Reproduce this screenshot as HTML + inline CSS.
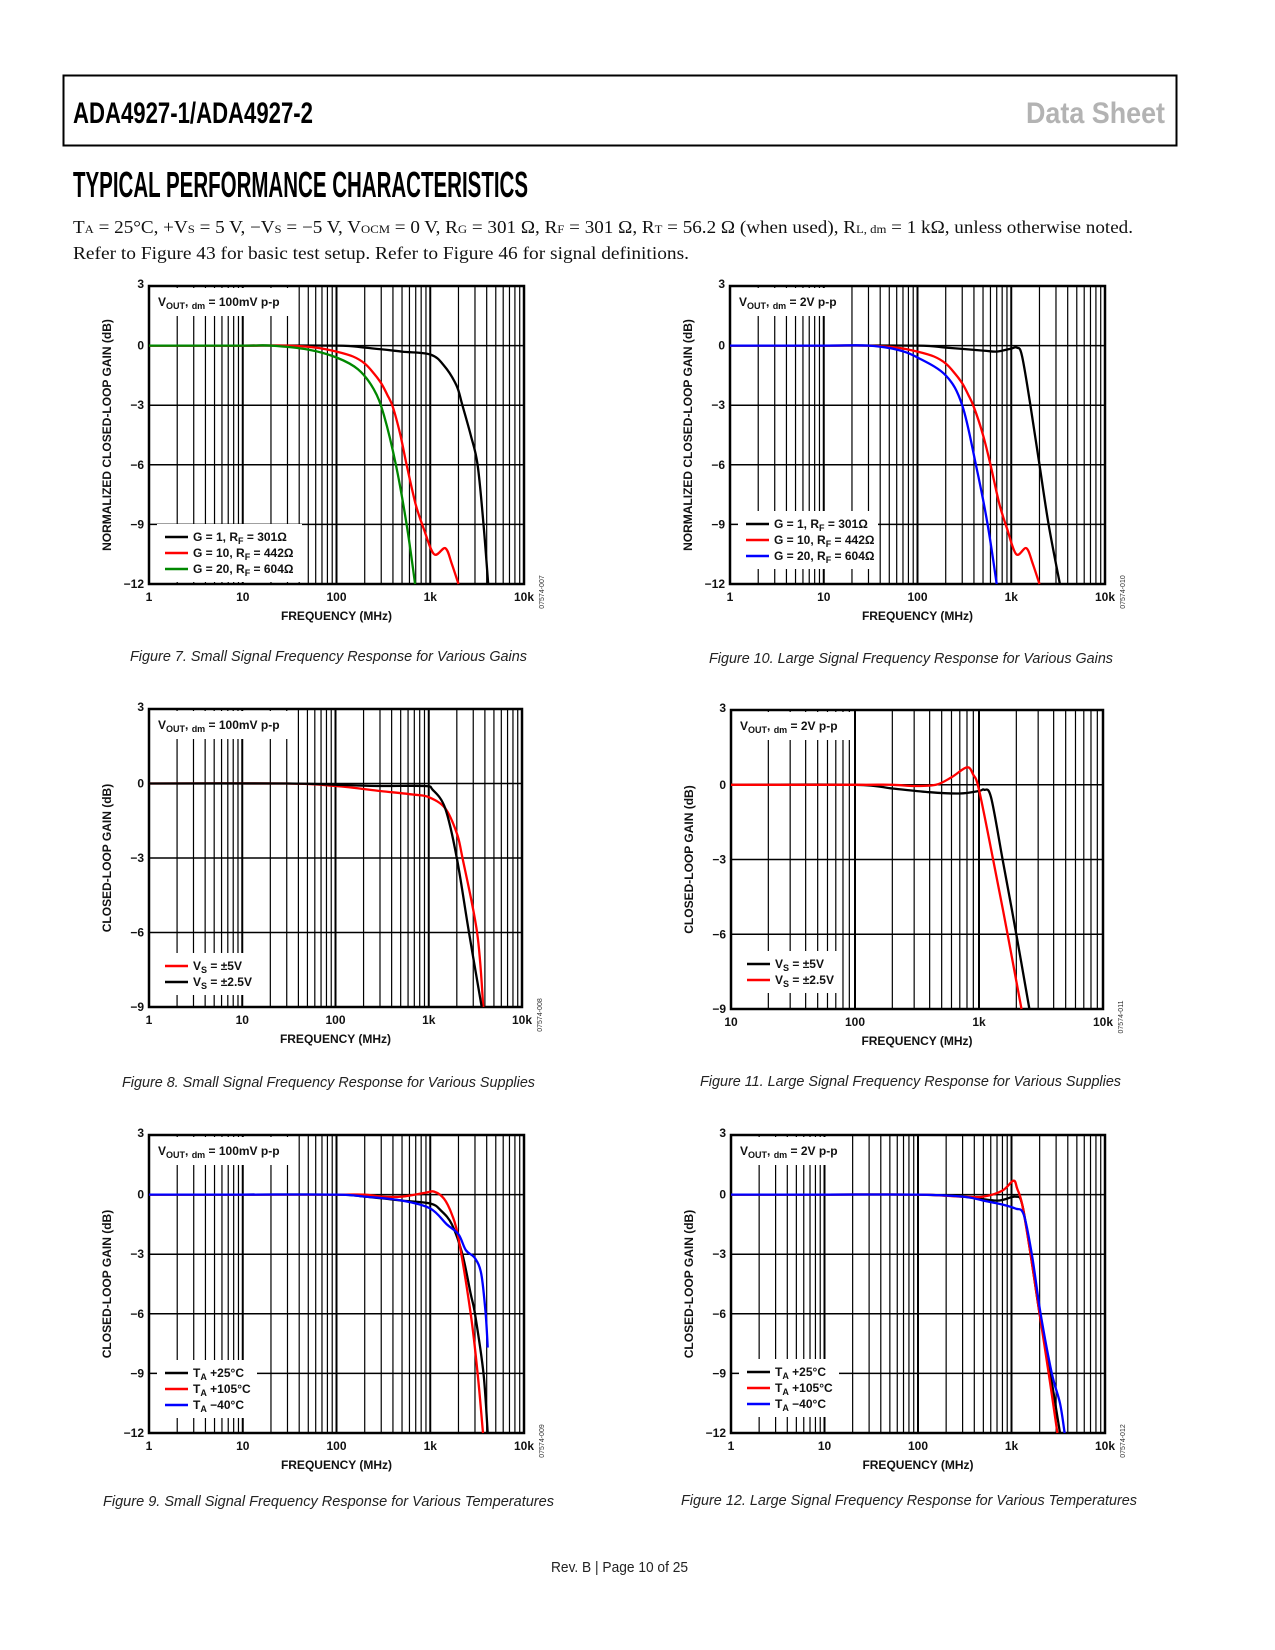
<!DOCTYPE html>
<html><head><meta charset="utf-8">
<style>
html,body{margin:0;padding:0;background:#fff;}
svg{display:block;}
.ax{font-family:"Liberation Sans",Arial,sans-serif;font-weight:bold;font-size:12px;fill:#111;}
.cap{font-family:"Liberation Sans",Arial,sans-serif;font-style:italic;font-size:15px;fill:#222;}
.foot{font-family:"Liberation Sans",Arial,sans-serif;font-style:normal;font-size:15px;fill:#222;}
.body{font-family:"Liberation Serif","Times New Roman",serif;font-size:18px;fill:#111;}
</style></head>
<body>
<svg id="page" width="1275" height="1650" viewBox="0 0 1275 1650" xmlns="http://www.w3.org/2000/svg">
<rect x="0" y="0" width="1275" height="1650" fill="#fff"/>
<rect x="63.5" y="75.5" width="1113" height="70" fill="none" stroke="#000" stroke-width="2"/>
<text x="73" y="123" font-family="Liberation Sans, sans-serif" font-weight="bold" font-size="30" textLength="240" lengthAdjust="spacingAndGlyphs">ADA4927-1/ADA4927-2</text>
<text x="1026" y="123" font-family="Liberation Sans, sans-serif" font-weight="bold" font-size="30" fill="#b3b3b3" textLength="139" lengthAdjust="spacingAndGlyphs">Data Sheet</text>
<text x="73" y="197" font-family="Liberation Sans, sans-serif" font-weight="bold" font-size="36" textLength="455" lengthAdjust="spacingAndGlyphs">TYPICAL PERFORMANCE CHARACTERISTICS</text>
<text class="body" x="73" y="233" textLength="1060" lengthAdjust="spacingAndGlyphs">T<tspan font-size="12">A</tspan> = 25°C, +V<tspan font-size="12">S</tspan> = 5 V, −V<tspan font-size="12">S</tspan> = −5 V, V<tspan font-size="12">OCM</tspan> = 0 V, R<tspan font-size="12">G</tspan> = 301 Ω, R<tspan font-size="12">F</tspan> = 301 Ω, R<tspan font-size="12">T</tspan> = 56.2 Ω (when used), R<tspan font-size="12">L, dm</tspan> = 1 kΩ, unless otherwise noted.</text>
<text class="body" x="73" y="259" textLength="616" lengthAdjust="spacingAndGlyphs">Refer to Figure 43 for basic test setup. Refer to Figure 46 for signal definitions.</text>

<text class="cap" x="130" y="661" textLength="397" lengthAdjust="spacingAndGlyphs">Figure 7. Small Signal Frequency Response for Various Gains</text>
<text class="cap" x="709" y="663" textLength="404" lengthAdjust="spacingAndGlyphs">Figure 10. Large Signal Frequency Response for Various Gains</text>
<text class="cap" x="122" y="1087" textLength="413" lengthAdjust="spacingAndGlyphs">Figure 8. Small Signal Frequency Response for Various Supplies</text>
<text class="cap" x="700" y="1086" textLength="421" lengthAdjust="spacingAndGlyphs">Figure 11. Large Signal Frequency Response for Various Supplies</text>
<text class="cap" x="103" y="1506" textLength="451" lengthAdjust="spacingAndGlyphs">Figure 9. Small Signal Frequency Response for Various Temperatures</text>
<text class="cap" x="681" y="1505" textLength="456" lengthAdjust="spacingAndGlyphs">Figure 12. Large Signal Frequency Response for Various Temperatures</text>
<text class="foot" x="551" y="1572" textLength="137" lengthAdjust="spacingAndGlyphs">Rev. B | Page 10 of 25</text>
<g id="charts"></g>
</svg>
<script>
// ---- data (frequency in MHz, gain in dB) ----
const f7Black = [1,10,100,200,500,1000,1400,1900,2200,2700,3200,3700,4150];
const g7Black = [0,0,0,-0.1,-0.3,-0.45,-1,-2,-3,-4.5,-6,-9,-12];
const f7Red = [1,10,30,60,100,150,200,250,300,350,400,480,560,700,850,1100,1450,1700,2000];
const g7Red = [0,0,0,-0.1,-0.3,-0.55,-0.9,-1.4,-1.9,-2.5,-3.1,-4.5,-6,-8,-9.2,-10.5,-10.2,-11,-12];
const f7Green = [1,10,20,50,100,170,250,320,430,560,690];
const g7Green = [0,0,0,-0.2,-0.6,-1.2,-2.2,-3.5,-6,-9,-12];

const f10Black = [1,10,100,200,500,700,1000,1150,1300,1600,2000,2500,3300];
const g10Black = [0,0,0,-0.1,-0.25,-0.3,-0.15,-0.1,-0.5,-3,-6,-9,-12];
const f10Red = [1,10,30,60,100,150,200,250,300,350,400,500,600,750,900,1130,1450,1700,2000];
const g10Red = [0,0,0,-0.1,-0.3,-0.55,-0.9,-1.4,-1.9,-2.5,-3.1,-4.5,-6,-8,-9.2,-10.5,-10.2,-11,-12];
const f10Blue = [1,10,30,60,100,200,300,420,560,700];
const g10Blue = [0,0,0,-0.2,-0.6,-1.5,-3,-6,-9,-12];

const f8Red = [1,30,100,300,700,1000,1500,2000,2300,3300,3850];
const g8Red = [0,0,-0.1,-0.3,-0.45,-0.55,-1,-2,-3,-6,-9];
const f8Black = [1,30,100,300,900,1100,1500,2000,2700,3700];
const g8Black = [0,0,-0.05,-0.1,-0.1,-0.25,-1,-3,-6,-9];

const f11Black = [10,100,200,400,700,1000,1100,1250,1550,2000,2550];
const g11Black = [0,0,-0.15,-0.3,-0.35,-0.25,-0.2,-0.5,-3,-6,-9];
const f11Red = [10,100,200,300,450,600,800,900,1000,1300,1700,2200];
const g11Red = [0,0,0,-0.05,0,0.3,0.7,0.4,-0.2,-3,-6,-9];

const f9Black = [1,10,100,200,500,1000,1300,1700,2200,2700,3000,3700,4100];
const g9Black = [0,0,0,-0.1,-0.3,-0.45,-0.8,-1.5,-3,-5,-6,-9,-12];
const f9Red = [1,10,100,200,300,500,900,1100,1400,1700,2000,2700,3200,3650];
const g9Red = [0,0,0,0,-0.1,-0.1,0.1,0.15,-0.2,-1,-2.2,-6,-9,-12];
const f9Blue = [1,10,100,200,500,1000,1500,2000,2400,3000,3500,3900,4100];
const g9Blue = [0,0,0,-0.1,-0.3,-0.7,-1.5,-2,-2.8,-3.2,-4,-6,-7.7];

const f12Black = [1,10,100,300,700,1100,1300,1600,2000,2600,3300];
const g12Black = [0,0,0,-0.1,-0.3,-0.1,-0.5,-3,-6,-9,-12];
const f12Red = [1,10,100,300,500,800,1050,1150,1300,1600,2000,2500,3100];
const g12Red = [0,0,0,-0.1,-0.1,0.2,0.7,0.3,-0.5,-3,-6,-9,-12];
const f12Blue = [1,10,100,300,500,800,1100,1350,1650,2050,2700,3300,3700];
const g12Blue = [0,0,0,-0.1,-0.3,-0.5,-0.7,-1,-3,-6,-9,-10.5,-12];

const yTicks12 = [3,0,-3,-6,-9,-12];
const yTicks9 = [3,0,-3,-6,-9];
const xTicks4 = [1,10,100,1000,10000];
const xTicks3 = [10,100,1000,10000];
const xTickLabels4 = ["1","10","100","1k","10k"];
const xTickLabels3 = ["10","100","1k","10k"];

const NS = "http://www.w3.org/2000/svg";
const root = document.getElementById('charts');
function mk(tag, attrs, parent){
  const e = document.createElementNS(NS, tag);
  for (const k in attrs) e.setAttribute(k, attrs[k]);
  (parent||root).appendChild(e);
  return e;
}
function smoothPath(pts){
  let d = "M"+pts[0][0].toFixed(1)+","+pts[0][1].toFixed(1);
  for (let i=0;i<pts.length-1;i++){
    const p0=pts[Math.max(0,i-1)], p1=pts[i], p2=pts[i+1], p3=pts[Math.min(pts.length-1,i+2)];
    const c1x=p1[0]+(p2[0]-p0[0])/6, c1y=p1[1]+(p2[1]-p0[1])/6;
    const c2x=p2[0]-(p3[0]-p1[0])/6, c2y=p2[1]-(p3[1]-p1[1])/6;
    d += " C"+c1x.toFixed(1)+","+c1y.toFixed(1)+" "+c2x.toFixed(1)+","+c2y.toFixed(1)+" "+p2[0].toFixed(1)+","+p2[1].toFixed(1);
  }
  return d;
}

function drawChart(c){
  const g = mk('g', {});
  
  
  const fmin = c.xTicks[0], fmax = c.xTicks[c.xTicks.length-1];
  const ymax = c.yTicks[0], ymin = c.yTicks[c.yTicks.length-1];
  const X = f => c.L + (Math.log10(f)-Math.log10(fmin))/(Math.log10(fmax)-Math.log10(fmin))*(c.R-c.L);
  const Y = v => c.T + (ymax-v)/(ymax-ymin)*(c.B-c.T);
  for (let dec=fmin; dec<fmax; dec*=10){
    for (let m=2;m<=9;m++){
      const x = X(dec*m);
      const ln = mk('line', {x1:x,x2:x,y1:c.T,y2:c.B,stroke:'#000','stroke-width':1.2}, g);
      
      
    }
  }
  c.xTicks.forEach((f,i)=>{
    const x = X(f);
    const ln = mk('line', {x1:x,x2:x,y1:c.T,y2:c.B,stroke:'#000','stroke-width':2}, g);
    
    
    const t = mk('text', {x:x, y:c.B+17, 'text-anchor':'middle', class:'ax'}, g);
    t.textContent = c.xLabels[i];
    
    
  });
  c.yTicks.forEach(v=>{
    const y = Y(v);
    const ln = mk('line', {x1:c.L,x2:c.R,y1:y,y2:y,stroke:'#000','stroke-width':1.5}, g);
    
    
    const t = mk('text', {x:c.L-5, y:y+(v===ymax?2:4), 'text-anchor':'end', class:'ax'}, g);
    t.textContent = v<0 ? '\u2212'+Math.abs(v) : String(v);
    
    
  });
  const lb = mk('rect', {x:c.L+2, y:c.T+2, width:c.labelW, height:28, fill:'#fff'}, g);
  
  
  const legH = c.series.length*16+10;
  const legB = mk('rect', {x:c.L+8, y:c.B-2-legH-(c.legendLift||0), width:c.legendW, height:legH, fill:'#fff'}, g);
  
  
  const fr = mk('rect', {x:c.L, y:c.T, width:c.R-c.L, height:c.B-c.T, fill:'none', stroke:'#000','stroke-width':2.5}, g);
  
  
  const lt = mk('text', {x:c.L+9, y:c.T+20, class:'ax'}, g);
  lt.innerHTML = 'V<tspan font-size="9" dy="3">OUT</tspan><tspan dy="-3">, </tspan><tspan font-size="9" dy="3">dm</tspan><tspan dy="-3"> = '+c.label+'</tspan>';
  
  
  c.series.forEach(s=>{
    const pts = s.f.map((f,i)=>[X(f), Y(s.g[i])]);
    const p = mk('path', {d:smoothPath(pts), fill:'none', stroke:s.color, 'stroke-width':2.3, 'stroke-linejoin':'round'}, g);
    
    
  });
  c.series.forEach((s,i)=>{
    const y = c.B - 2 - legH - (c.legendLift||0) + 13 + i*16;
    const ln = mk('line', {x1:c.L+16,x2:c.L+39,y1:y,y2:y,stroke:s.color,'stroke-width':2.5}, g);
    
    
    const t = mk('text', {x:c.L+44, y:y+4, class:'ax'}, g);
    t.innerHTML = s.legend;
    
    
  });
  const xt = mk('text', {x:(c.L+c.R)/2, y:c.B+36, 'text-anchor':'middle', class:'ax'}, g);
  xt.textContent = 'FREQUENCY (MHz)';
  
  
  const cy = (c.T+c.B)/2+ (c.yTitleShift||0);
  const yt = mk('text', {x:c.L-38, y:cy, 'text-anchor':'middle', class:'ax', transform:'rotate(-90 '+(c.L-38)+' '+cy+')'}, g);
  yt.textContent = c.yTitle;
  
  
  const idx = c.R+20, idy = c.B+8;
  const id = mk('text', {x:idx, y:idy, 'text-anchor':'middle', 'font-family':'Liberation Sans, sans-serif', 'font-size':7, fill:'#333', transform:'rotate(-90 '+idx+' '+idy+')'}, g);
  id.textContent = c.code;
  
  
}

const RF = n => 'G = '+n[0]+', R<tspan font-size="9" dy="3">F</tspan><tspan dy="-3"> = '+n[1]+'Ω</tspan>';
const VS = v => 'V<tspan font-size="9" dy="3">S</tspan><tspan dy="-3"> = '+v+'</tspan>';
const TA = v => 'T<tspan font-size="9" dy="3">A</tspan><tspan dy="-3"> '+v+'°C</tspan>';

drawChart({name:'figure-7-chart', L:149, R:524, T:286, B:584, xTicks:xTicks4, xLabels:xTickLabels4, yTicks:yTicks12,
  label:'100mV p-p', labelW:140, legendW:145, yTitle:'NORMALIZED CLOSED-LOOP GAIN (dB)', code:'07574-007',
  series:[{id:'series-g1',f:f7Black,g:g7Black,color:'#000',legend:RF([1,301])},
          {id:'series-g10',f:f7Red,g:g7Red,color:'#f00',legend:RF([10,442])},
          {id:'series-g20',f:f7Green,g:g7Green,color:'#080',legend:RF([20,604])}]});
drawChart({name:'figure-10-chart', L:730, R:1105, T:286, B:584, xTicks:xTicks4, xLabels:xTickLabels4, yTicks:yTicks12,
  label:'2V p-p', labelW:118, legendW:140, legendLift:13, yTitle:'NORMALIZED CLOSED-LOOP GAIN (dB)', code:'07574-010',
  series:[{id:'series-g1',f:f10Black,g:g10Black,color:'#000',legend:RF([1,301])},
          {id:'series-g10',f:f10Red,g:g10Red,color:'#f00',legend:RF([10,442])},
          {id:'series-g20',f:f10Blue,g:g10Blue,color:'#00f',legend:RF([20,604])}]});
drawChart({name:'figure-8-chart', L:149, R:522, T:709, B:1007, xTicks:xTicks4, xLabels:xTickLabels4, yTicks:yTicks9,
  label:'100mV p-p', labelW:140, legendW:100, legendLift:10, yTitle:'CLOSED-LOOP GAIN (dB)', code:'07574-008',
  series:[{id:'series-vs-5v',f:f8Red,g:g8Red,color:'#f00',legend:VS('±5V')},
          {id:'series-vs-2-5v',f:f8Black,g:g8Black,color:'#000',legend:VS('±2.5V')}]});
drawChart({name:'figure-11-chart', L:731, R:1103, T:710, B:1009, xTicks:xTicks3, xLabels:xTickLabels3, yTicks:yTicks9,
  label:'2V p-p', labelW:118, legendW:100, legendLift:14, yTitle:'CLOSED-LOOP GAIN (dB)', code:'07574-011',
  series:[{id:'series-vs-5v',f:f11Black,g:g11Black,color:'#000',legend:VS('±5V')},
          {id:'series-vs-2-5v',f:f11Red,g:g11Red,color:'#f00',legend:VS('±2.5V')}]});
drawChart({name:'figure-9-chart', L:149, R:524, T:1135, B:1433, xTicks:xTicks4, xLabels:xTickLabels4, yTicks:yTicks12,
  label:'100mV p-p', labelW:140, legendW:100, legendLift:13, yTitle:'CLOSED-LOOP GAIN (dB)', code:'07574-009',
  series:[{id:'series-25c',f:f9Black,g:g9Black,color:'#000',legend:TA('+25')},
          {id:'series-105c',f:f9Red,g:g9Red,color:'#f00',legend:TA('+105')},
          {id:'series-minus40c',f:f9Blue,g:g9Blue,color:'#00f',legend:TA('\u221240')}]});
drawChart({name:'figure-12-chart', L:731, R:1105, T:1135, B:1433, xTicks:xTicks4, xLabels:xTickLabels4, yTicks:yTicks12,
  label:'2V p-p', labelW:118, legendW:100, legendLift:14, yTitle:'CLOSED-LOOP GAIN (dB)', code:'07574-012',
  series:[{id:'series-25c',f:f12Black,g:g12Black,color:'#000',legend:TA('+25')},
          {id:'series-105c',f:f12Red,g:g12Red,color:'#f00',legend:TA('+105')},
          {id:'series-minus40c',f:f12Blue,g:g12Blue,color:'#00f',legend:TA('\u221240')}]});
</script>
</body></html>
